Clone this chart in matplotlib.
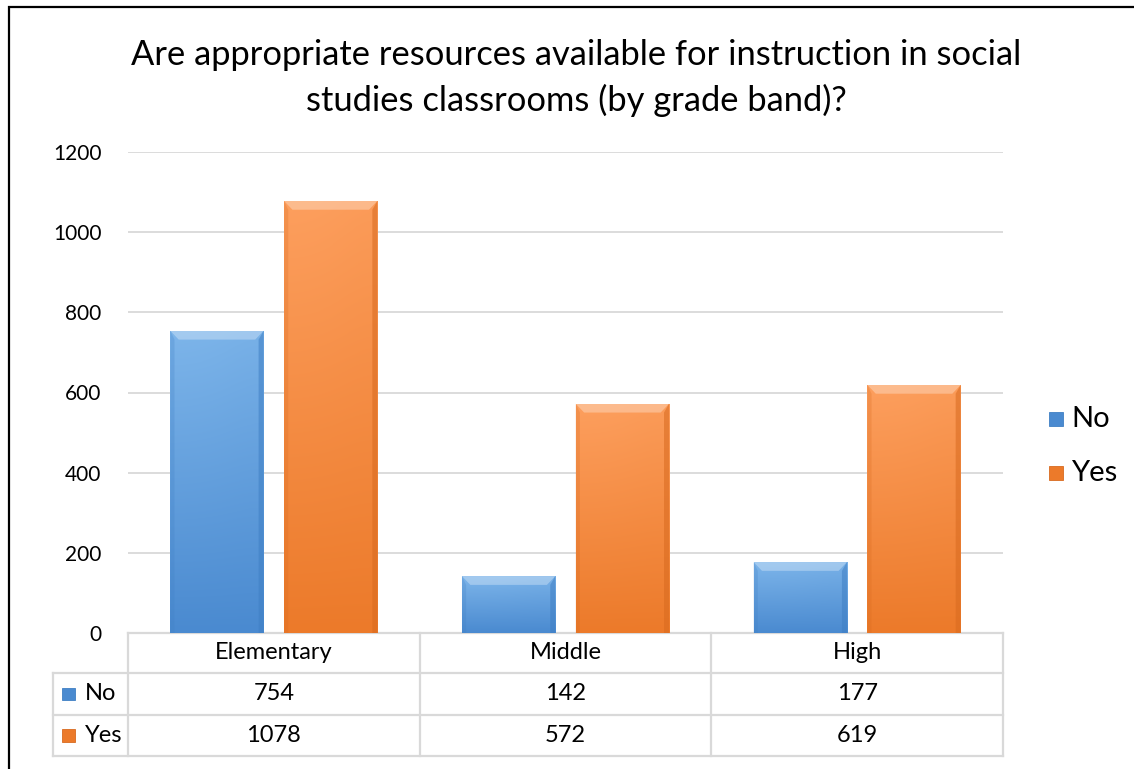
import matplotlib
matplotlib.use("Agg")
import matplotlib.pyplot as plt
import numpy as np
from matplotlib.colors import LinearSegmentedColormap
from matplotlib.patches import Rectangle, Polygon
import matplotlib.transforms as mtransforms

categories = ["Elementary", "Middle", "High"]
series_names = ["No", "Yes"]
no_values = [754, 142, 177]
yes_values = [1078, 572, 619]
yticks = [0, 200, 400, 600, 800, 1000, 1200]
title = "Are appropriate resources available for instruction in social\nstudies classrooms (by grade band)?"

FONT = ["Lato", "DejaVu Sans"]
plt.rcParams["font.family"] = FONT

W, H = 1134, 769
fig = plt.figure(figsize=(W / 100, H / 100), dpi=100)
ax = fig.add_axes([128 / W, 1 - 633 / H, 875 / W, 481 / H])

colors = {"No": ("#7db5ea", "#4a8ad0", "#3f7fc4"), "Yes": ("#fd9f5e", "#ec7a2a", "#d86a1f")}
x = np.arange(len(categories))
bw = 0.32
off = 0.195
TFS = 17  # table font size

for name, vals, sign in [("No", no_values, -1), ("Yes", yes_values, 1)]:
    top, bot, dark = colors[name]
    cmap = LinearSegmentedColormap.from_list(name, [bot, top])
    bars = ax.bar(x + sign * off, vals, bw, color=bot, edgecolor="none", zorder=3, label=name)
    for b in bars:
        x0, y0, w, h = b.get_x(), b.get_y(), b.get_width(), b.get_height()
        grad = np.linspace(0, 1, 256).reshape(-1, 1)
        grad = np.hstack([grad, grad * 0.97, grad * 0.9])
        im = ax.imshow(grad, extent=[x0, x0 + w, y0, y0 + h], origin="lower",
                       aspect="auto", cmap=cmap, zorder=3.1, interpolation="bicubic")
        im.set_clip_path(b)
        bev_x = w * 0.09
        bev_y = 22.0
        ax.add_patch(Polygon([[x0, y0 + h], [x0 + w, y0 + h], [x0 + w - bev_x, y0 + h - bev_y],
                              [x0 + bev_x, y0 + h - bev_y]], closed=True,
                             facecolor="white", alpha=0.3, edgecolor="none", zorder=3.2))
        ax.add_patch(Polygon([[x0 + w, y0], [x0 + w, y0 + h], [x0 + w - bev_x * 0.6, y0 + h - bev_y],
                              [x0 + w - bev_x * 0.6, y0]], closed=True,
                             facecolor=dark, alpha=0.55, edgecolor="none", zorder=3.2))
        ax.add_patch(Polygon([[x0, y0], [x0, y0 + h], [x0 + bev_x * 0.5, y0 + h - bev_y],
                              [x0 + bev_x * 0.5, y0]], closed=True,
                             facecolor=dark, alpha=0.25, edgecolor="none", zorder=3.2))

ax.set_xlim(-0.5, len(categories) - 0.5)
ax.set_ylim(0, 1200)
ax.set_yticks(yticks)
ax.set_yticklabels([str(v) for v in yticks], fontsize=15, color="#000000")
ax.tick_params(axis="y", length=0, pad=19)
ax.set_xticks([])
ax.grid(axis="y", color="#d9d9d9", linewidth=1.3, zorder=0)
for s in ax.spines.values():
    s.set_visible(False)

# data table under the axes
tr = mtransforms.blended_transform_factory(ax.transData, ax.transAxes)
row_edges = [0.0, -0.083, -0.1705, -0.2557]
col_left = -0.757
line_kw = dict(color="#d9d9d9", linewidth=1.6, transform=tr, clip_on=False, zorder=1)
ax.plot([-0.5, len(categories) - 0.5], [row_edges[0]] * 2, **line_kw)
for ry in row_edges[1:]:
    ax.plot([col_left, len(categories) - 0.5], [ry] * 2, **line_kw)
for cx in np.arange(len(categories) + 1) - 0.5:
    ax.plot([cx, cx], [row_edges[0], row_edges[-1]], **line_kw)
ax.plot([col_left, col_left], [row_edges[1], row_edges[-1]], **line_kw)

def mid(i):
    return (row_edges[i] + row_edges[i + 1]) / 2

for i, c in enumerate(categories):
    ax.text(i, mid(0), c, transform=tr, ha="center", va="center", fontsize=TFS)
for r, (name, vals) in enumerate([("No", no_values), ("Yes", yes_values)]):
    for i, v in enumerate(vals):
        ax.text(i, mid(r + 1), str(v), transform=tr, ha="center", va="center", fontsize=TFS)
    ax.add_patch(Rectangle((col_left + 0.032, mid(r + 1) - 0.013), 0.043, 0.026,
                           transform=tr, clip_on=False, facecolor=colors[name][1],
                           edgecolor=colors[name][2], linewidth=0.6, zorder=2))
    ax.text(col_left + 0.108, mid(r + 1), name, transform=tr, ha="left", va="center", fontsize=TFS)

# legend
leg_y = [419, 473]
for name, yy in zip(series_names, leg_y):
    fig.patches.append(Rectangle((1049 / W, 1 - (yy + 7) / H), 14 / W, 14 / H,
                                 transform=fig.transFigure, facecolor=colors[name][1],
                                 edgecolor=colors[name][2], linewidth=0.6))
    fig.text(1071 / W, 1 - yy / H, name, ha="left", va="center", fontsize=21)

# title
fig.text(0.508, 1 - 78 / H, title, ha="center", va="center", fontsize=24.8,
         linespacing=1.5)

# border
fig.patches.append(Rectangle((8.5 / W, -0.01), 1.2, 1 - 6.5 / H + 0.01,
                             transform=fig.transFigure, fill=False,
                             edgecolor="black", linewidth=1.6))

fig.savefig("out.png", dpi=100)
